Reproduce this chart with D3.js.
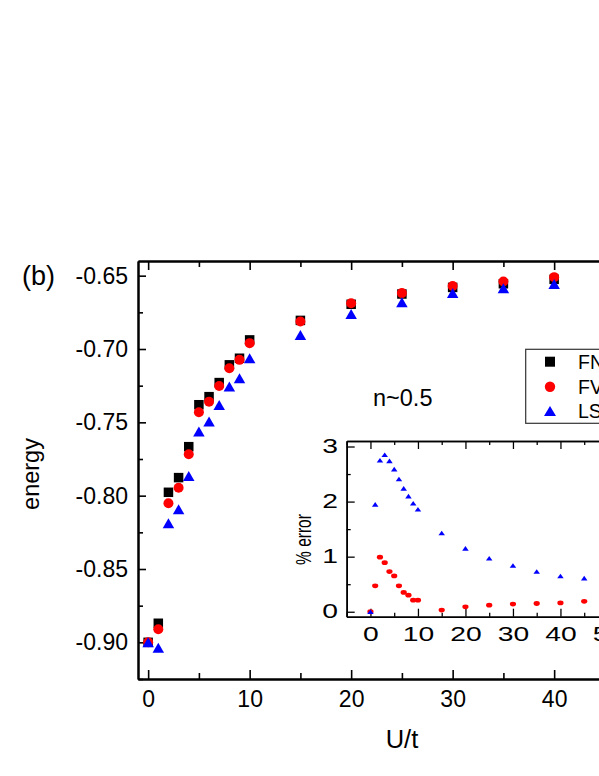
<!DOCTYPE html>
<html><head><meta charset="utf-8">
<script src="https://cdn.jsdelivr.net/npm/d3@7"></script>
<style>
html,body{margin:0;padding:0;background:#fff;}
svg{display:block;font-family:"Liberation Sans",Arial,sans-serif;}
</style></head>
<body><svg id="c" width="599" height="776"></svg>
<script>
// ---- data ----
const U = [0,1,2,3,4,5,6,7,8,9,10,15,20,25,30,35,40,45];
const FN = [-0.900,-0.887,-0.7977,-0.7877,-0.7666,-0.738,-0.7325,-0.7229,-0.7108,-0.7063,-0.6938,-0.6805,-0.6695,-0.6625,-0.658,-0.6555,-0.6525,-0.651];
const FV = [-0.900,-0.8911,-0.8052,-0.7946,-0.7718,-0.7431,-0.7359,-0.7252,-0.7131,-0.7074,-0.6960,-0.6813,-0.6688,-0.6619,-0.657,-0.654,-0.651,-0.6495];
const LS = [-0.900,-0.9037,-0.8188,-0.8093,-0.7866,-0.7563,-0.7495,-0.7381,-0.7256,-0.7199,-0.7063,-0.6904,-0.6762,-0.6681,-0.6619,-0.6585,-0.6556,-0.6545];
const errFV = [0,0.47,0.99,0.89,0.73,0.65,0.47,0.35,0.30,0.21,0.21,0.03,0.09,0.12,0.14,0.15,0.16,0.19];
const errLS = [0,1.95,2.75,2.85,2.74,2.59,2.41,2.24,2.10,1.97,1.86,1.43,1.15,0.97,0.84,0.73,0.65,0.61];
const xTicks = [0,10,20,30,40,50];
const yTicks = [-0.90,-0.85,-0.80,-0.75,-0.70,-0.65];
const insetXTicks = [0,10,20,30,40,50];
const insetYTicks = [0,1,2,3];
const legendLabels = ["FN","FV","LS"];
const seriesColors = ["#000000","#ff0000","#0000ff"];

const svg = d3.select("#c");
svg.append("rect").attr("width",599).attr("height",776).attr("fill","#fff");

// ---- main scales ----
const x = d3.scaleLinear().domain([-1,55]).range([138,706.4]);
const y = d3.scaleLinear().domain([-0.925,-0.64]).range([679,261]);

function styleAxis(g, w){
  g.select(".domain").attr("stroke","#000").attr("stroke-width",w);
  g.selectAll(".tick line").attr("stroke","#000").attr("stroke-width",w*0.8);
}
const minorX = d3.range(-0,56,5).filter(v=>v%10!==0);
const minorY = [-0.925,-0.875,-0.825,-0.775,-0.725,-0.675];

// bottom
const gb = svg.append("g").attr("transform","translate(0,679)")
  .call(d3.axisBottom(x).tickValues(xTicks).tickSizeInner(-9).tickSizeOuter(0).tickPadding(12).tickFormat(d3.format("d")));
gb.selectAll("text").attr("font-size",23).attr("fill","#000").attr("font-family","Liberation Sans, Arial, sans-serif");
styleAxis(gb,2);
const gbm = svg.append("g").attr("transform","translate(0,679)")
  .call(d3.axisBottom(x).tickValues(minorX).tickSizeInner(-6).tickSizeOuter(0).tickFormat(""));
styleAxis(gbm,2);
// top
const gt = svg.append("g").attr("transform","translate(0,261)")
  .call(d3.axisTop(x).tickValues(xTicks).tickSizeInner(-9).tickSizeOuter(0).tickFormat(""));
styleAxis(gt,2);
const gtm = svg.append("g").attr("transform","translate(0,261)")
  .call(d3.axisTop(x).tickValues(minorX).tickSizeInner(-6).tickSizeOuter(0).tickFormat(""));
styleAxis(gtm,2);
// left
const gl = svg.append("g").attr("transform","translate(138,0)")
  .call(d3.axisLeft(y).tickValues(yTicks).tickSizeInner(-8).tickSizeOuter(0).tickPadding(10).tickFormat(d3.format(".2f")));
gl.selectAll("text").attr("font-size",23).attr("fill","#000").attr("font-family","Liberation Sans, Arial, sans-serif")
  .text(d=>d3.format(".2f")(d).replace("−","-"));
styleAxis(gl,2);
const glm = svg.append("g").attr("transform","translate(138,0)")
  .call(d3.axisLeft(y).tickValues(minorY).tickSizeInner(-5).tickSizeOuter(0).tickFormat(""));
styleAxis(glm,2);

// axis titles
svg.append("text").attr("x",402).attr("y",748).attr("text-anchor","middle").attr("font-size",25.5).text("U/t");
svg.append("text").attr("transform","translate(38.5,474) rotate(-90)").attr("text-anchor","middle").attr("font-size",23.5).text("energy");
svg.append("text").attr("x",22).attr("y",285).attr("font-size",27).text("(b)");
svg.append("text").attr("x",373).attr("y",406).attr("font-size",23.5).text("n~0.5");

// markers
function tri(w,h){ return `M0,${-h/2}L${w/2},${h/2}L${-w/2},${h/2}Z`; }
const main = svg.append("g");
main.selectAll("rect.fn").data(U.map((u,i)=>[u,FN[i]])).join("rect")
  .attr("x",d=>x(d[0])-4.75).attr("y",d=>y(d[1])-4.75).attr("width",9.5).attr("height",9.5).attr("fill",seriesColors[0]);
main.selectAll("circle.fv").data(U.map((u,i)=>[u,FV[i]])).join("circle")
  .attr("cx",d=>x(d[0])).attr("cy",d=>y(d[1])).attr("r",5).attr("fill",seriesColors[1]);
main.selectAll("path.ls").data(U.map((u,i)=>[u,LS[i]])).join("path")
  .attr("d",tri(11.5,10)).attr("transform",d=>`translate(${x(d[0])},${y(d[1])})`).attr("fill",seriesColors[2]);

// legend
const lg = svg.append("g");
lg.append("rect").attr("x",525.7).attr("y",349.3).attr("width",200).attr("height",74).attr("fill","#fff").attr("stroke","#333").attr("stroke-width",1.2);
const ly = [361.7,386.7,411];
lg.append("rect").attr("x",550-5).attr("y",ly[0]-5).attr("width",10).attr("height",10).attr("fill",seriesColors[0]);
lg.append("circle").attr("cx",550).attr("cy",ly[1]).attr("r",5.2).attr("fill",seriesColors[1]);
lg.append("path").attr("d",tri(12,10)).attr("transform",`translate(550,${ly[2]})`).attr("fill",seriesColors[2]);
legendLabels.forEach((t,i)=>{
  lg.append("text").attr("x",578).attr("y",ly[i]+6.8).attr("font-size",19.5).text(t);
});

// ---- inset ----
const ix = d3.scaleLinear().domain([-5,55]).range([346.7,631.7]);
const iy = d3.scaleLinear().domain([-0.09,3.1]).range([616.7,441]);
const SX = 1.45;
const ib = svg.append("g").attr("transform","translate(0,616.7)")
  .call(d3.axisBottom(ix).tickValues(insetXTicks).tickSizeInner(-8).tickSizeOuter(0).tickPadding(10).tickFormat(d3.format("d")));
ib.selectAll("text").attr("font-size",19.5).attr("fill","#000").attr("font-family","Liberation Sans, Arial, sans-serif")
  .attr("transform",`scale(${SX},1)`);
styleAxis(ib,1.6);
const ibm = svg.append("g").attr("transform","translate(0,616.7)")
  .call(d3.axisBottom(ix).tickValues([-5,5,15,25,35,45]).tickSizeInner(-4).tickSizeOuter(0).tickFormat(""));
styleAxis(ibm,1.6);
const it = svg.append("g").attr("transform","translate(0,441)")
  .call(d3.axisTop(ix).tickValues(insetXTicks).tickSizeInner(-8).tickSizeOuter(0).tickFormat(""));
styleAxis(it,1.6);
const itm = svg.append("g").attr("transform","translate(0,441)")
  .call(d3.axisTop(ix).tickValues([-5,5,15,25,35,45]).tickSizeInner(-4).tickSizeOuter(0).tickFormat(""));
styleAxis(itm,1.6);
const il = svg.append("g").attr("transform","translate(346.7,0)")
  .call(d3.axisLeft(iy).tickValues(insetYTicks).tickSizeInner(-8).tickSizeOuter(0).tickPadding(6).tickFormat(d3.format("d")));
il.selectAll("text").attr("font-size",19.5).attr("fill","#000").attr("font-family","Liberation Sans, Arial, sans-serif")
  .attr("transform",`scale(${SX},1)`);
styleAxis(il,1.6);
const ilm = svg.append("g").attr("transform","translate(346.7,0)")
  .call(d3.axisLeft(iy).tickValues([0.5,1.5,2.5]).tickSizeInner(-4).tickSizeOuter(0).tickFormat(""));
styleAxis(ilm,1.6);
svg.append("text").attr("transform",`translate(311,539.5) scale(${SX},1) rotate(-90)`).attr("text-anchor","middle").attr("font-size",15.5).text("% error");

const ins = svg.append("g");
ins.selectAll("ellipse").data(U.map((u,i)=>[u,errFV[i]])).join("ellipse")
  .attr("cx",d=>ix(d[0])).attr("cy",d=>iy(d[1])).attr("rx",3.1).attr("ry",2.4).attr("fill",seriesColors[1]);
ins.selectAll("path").data(U.map((u,i)=>[u,errLS[i]])).join("path")
  .attr("d",tri(6.5,4.6)).attr("transform",d=>`translate(${ix(d[0])},${iy(d[1])})`).attr("fill",seriesColors[2]);
</script></body></html>
